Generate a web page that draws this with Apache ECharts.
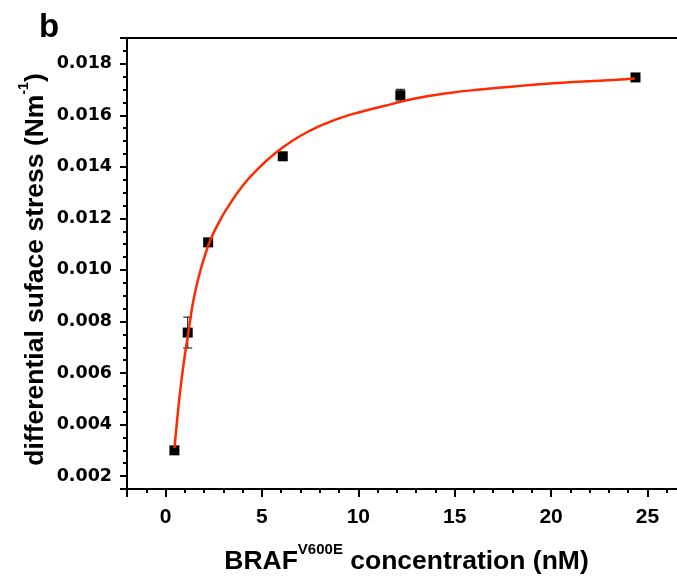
<!DOCTYPE html>
<html>
<head>
<meta charset="utf-8">
<script src="https://cdn.jsdelivr.net/npm/echarts@6/dist/echarts.min.js"></script>
<style>
  html, body { margin: 0; padding: 0; background: #fff; }
  #chart { width: 677px; height: 580px; }
</style>
</head>
<body>
<div id="chart"></div>
<script>
// BRAF V600E concentration (nM) and measured differential surface stress (N/m)
const concentration = [0.46, 1.15, 2.21, 6.08, 12.18, 24.38];
const stress = [0.0030, 0.00757, 0.01107, 0.01441, 0.01678, 0.01747];
const stressErr = [0, 0.0006, 0, 0, 0.00023, 0];

// Fitted binding curve, sampled along its trace
const fitX = [0.46, 0.63, 0.80, 1.01, 1.24, 1.41, 1.67, 2.01, 2.36, 2.88, 3.14, 4.00, 4.87, 5.74,
              6.60, 7.48, 8.33, 9.20, 10.06, 11.27, 13.01, 14.74, 16.46, 18.20, 19.93, 21.66, 23.39, 24.34];
const fitY = [0.00309, 0.00440, 0.00556, 0.00673, 0.00785, 0.00867, 0.00958, 0.01048, 0.01122, 0.01200,
              0.01233, 0.01327, 0.01398, 0.01456, 0.01502, 0.01540, 0.01569, 0.01593, 0.01612, 0.01635,
              0.01666, 0.01687, 0.01701, 0.01713, 0.01723, 0.01731, 0.01738, 0.01743];

const SANS = '"Liberation Sans", Arial, Helvetica, sans-serif';
const WIDE = '"DejaVu Sans", "Liberation Sans", sans-serif';

const points = concentration.map((x, i) => [x, stress[i]]);
const errBars = concentration
  .map((x, i) => [x, stress[i], stressErr[i]])
  .filter(d => d[2] > 0);
const fitLine = fitX.map((x, i) => [x, fitY[i]]);

const chart = echarts.init(document.getElementById('chart'), null, { renderer: 'canvas' });

chart.setOption({
  animation: false,
  backgroundColor: '#fff',
  title: {
    text: 'b',
    left: 34,
    top: 6,
    textStyle: { fontFamily: SANS, fontWeight: 'bold', fontSize: 33, color: '#000' }
  },
  grid: {
    left: 127, top: 38, right: -9, bottom: 91,
    outerBoundsMode: 'none',
    show: true, borderColor: '#000', borderWidth: 2, backgroundColor: 'transparent'
  },
  xAxis: {
    type: 'value',
    min: -2, max: 27,
    splitNumber: 6,
    splitLine: { show: false },
    axisLine: { onZero: false, lineStyle: { color: '#000', width: 2 } },
    axisTick: { length: 8, lineStyle: { color: '#000', width: 2 } },
    minorTick: { show: true, splitNumber: 5, length: 4, lineStyle: { color: '#000', width: 2 } },
    axisLabel: {
      showMinLabel: false, showMaxLabel: false,
      margin: 18,
      fontFamily: SANS, fontWeight: 'bold', fontSize: 21, color: '#000'
    },
    name: '{b|BRAF}{sup|V600E}{b| concentration (nM)}',
    nameLocation: 'middle',
    nameGap: 60,
    nameMoveOverlap: false,
    nameTextStyle: {
      rich: {
        b: { fontFamily: SANS, fontWeight: 'bold', fontSize: 26.5, lineHeight: 26, color: '#000' },
        sup: { fontFamily: SANS, fontWeight: 'bold', fontSize: 15, lineHeight: 15, color: '#000', padding: [0, 0, 25, 0] }
      }
    }
  },
  yAxis: {
    type: 'value',
    min: 0.0015, max: 0.019,
    splitNumber: 8,
    splitLine: { show: false },
    axisLine: { onZero: false, lineStyle: { color: '#000', width: 2 } },
    axisTick: { length: 7, lineStyle: { color: '#000', width: 2 } },
    minorTick: { show: true, splitNumber: 4, length: 4, lineStyle: { color: '#000', width: 2 } },
    axisLabel: {
      showMinLabel: false, showMaxLabel: false,
      margin: 15,
      formatter: v => v.toFixed(3),
      fontFamily: WIDE, fontWeight: 'bold', fontSize: 17.5, color: '#000'
    },
    name: '{b|differential suface stress (Nm}{sup|-1}{b|)}',
    nameLocation: 'middle',
    nameRotate: 90,
    nameGap: 78,
    nameMoveOverlap: false,
    nameTextStyle: {
      padding: [0, 12, 0, 0],
      rich: {
        b: { fontFamily: SANS, fontWeight: 'bold', fontSize: 26.5, lineHeight: 26, color: '#000' },
        sup: { fontFamily: SANS, fontWeight: 'bold', fontSize: 14, lineHeight: 14, color: '#000', padding: [0, 0, 24, 0] }
      }
    }
  },
  series: [
    {
      type: 'scatter',
      data: points,
      symbol: 'rect',
      symbolSize: 10,
      itemStyle: { color: '#000', opacity: 1 },
      z: 2
    },
    {
      type: 'custom',
      data: errBars,
      z: 3,
      renderItem: function (params, api) {
        const x = api.value(0), y = api.value(1), e = api.value(2);
        const top = api.coord([x, y + e]);
        const bot = api.coord([x, y - e]);
        const hw = 4.5;
        const st = { stroke: '#000', lineWidth: 1 };
        return {
          type: 'group',
          children: [
            { type: 'line', shape: { x1: top[0], y1: top[1], x2: bot[0], y2: bot[1] }, style: st },
            { type: 'line', shape: { x1: top[0] - hw, y1: top[1], x2: top[0] + hw, y2: top[1] }, style: st },
            { type: 'line', shape: { x1: bot[0] - hw, y1: bot[1], x2: bot[0] + hw, y2: bot[1] }, style: st }
          ]
        };
      }
    },
    {
      type: 'line',
      data: fitLine,
      showSymbol: false,
      smooth: 0.5,
      lineStyle: { color: '#ff2a00', width: 2.5 },
      z: 4
    }
  ]
});
</script>
</body>
</html>
